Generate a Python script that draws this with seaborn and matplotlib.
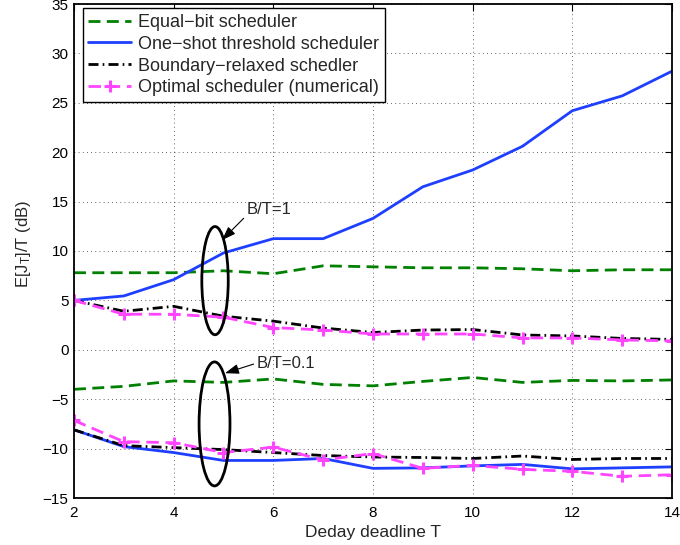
import matplotlib
matplotlib.use("Agg")
import matplotlib.pyplot as plt
from matplotlib.patches import Ellipse
import seaborn as sns
import pandas as pd

# ---- data ----
T = [2, 3, 4, 5, 6, 7, 8, 9, 10, 11, 12, 13, 14]
# B/T = 1
equal_bit_1 = [7.8, 7.8, 7.8, 8.0, 7.7, 8.5, 8.4, 8.3, 8.3, 8.2, 8.0, 8.1, 8.1]
one_shot_1 = [5.0, 5.45, 7.1, 9.8, 11.25, 11.25, 13.3, 16.5, 18.2, 20.6, 24.2, 25.7, 28.2]
boundary_1 = [5.0, 3.9, 4.4, 3.4, 2.9, 2.2, 1.75, 2.0, 2.05, 1.5, 1.4, 1.15, 1.05]
optimal_1 = [5.0, 3.6, 3.6, 3.3, 2.25, 2.0, 1.6, 1.6, 1.6, 1.2, 1.2, 1.0, 0.9]
# B/T = 0.1
equal_bit_01 = [-4.0, -3.7, -3.15, -3.3, -2.95, -3.5, -3.65, -3.2, -2.8, -3.3, -3.1, -3.15, -3.05]
one_shot_01 = [-8.1, -9.8, -10.4, -11.2, -11.2, -11.0, -12.0, -11.95, -11.75, -11.6, -12.05, -11.95, -11.85]
boundary_01 = [-8.1, -9.7, -9.9, -10.1, -10.4, -10.7, -10.85, -10.9, -11.0, -10.75, -11.1, -11.0, -11.0]
optimal_01 = [-7.15, -9.3, -9.4, -10.4, -9.85, -11.15, -10.5, -12.0, -11.7, -12.1, -12.3, -12.8, -12.65]

labels = ["Equal\u2212bit scheduler", "One\u2212shot threshold scheduler",
          "Boundary\u2212relaxed schedler", "Optimal scheduler (numerical)"]
x_ticks = [2, 4, 6, 8, 10, 12, 14]
y_ticks = [-15, -10, -5, 0, 5, 10, 15, 20, 25, 30, 35]

sns.set_theme(style="white")
plt.rcParams["font.family"] = ["Liberation Sans", "DejaVu Sans"]
plt.rcParams["mathtext.fontset"] = "custom"
plt.rcParams["mathtext.rm"] = "Liberation Sans"
plt.rcParams["mathtext.it"] = "Liberation Sans"

fig = plt.figure(figsize=(6.8, 5.45), dpi=100)
ax = fig.add_axes([74 / 680, 47 / 545, 598 / 680, 494 / 545])

magenta = "#ff45ff"
styles = [
    dict(color="#008000", linestyle=(0, (4.3, 2.3))),
    dict(color="#1f3fff", linestyle="-"),
    dict(color="black", linestyle=(0, (3.6, 1.5, 0.6, 1.5))),
    dict(color=magenta, linestyle=(0, (4.5, 2.4)), marker="+", markersize=9,
         markeredgewidth=2.2, markeredgecolor=magenta, markerfacecolor=magenta),
]
groups_1 = [equal_bit_1, one_shot_1, boundary_1, optimal_1]
groups_01 = [equal_bit_01, one_shot_01, boundary_01, optimal_01]

for lab, st, y1, y2 in zip(labels, styles, groups_1, groups_01):
    df1 = pd.DataFrame({"T": T, "v": y1})
    df2 = pd.DataFrame({"T": T, "v": y2})
    sns.lineplot(data=df1, x="T", y="v", ax=ax, label=lab, linewidth=2, **st)
    sns.lineplot(data=df2, x="T", y="v", ax=ax, legend=False, linewidth=2, **st)

ax.set_xlim(2, 14)
ax.set_ylim(-15, 35)
ax.set_xticks(x_ticks)
ax.set_yticks(y_ticks)
ax.tick_params(direction="in", top=True, right=True, length=5, width=0.8,
               labelsize=11, colors="black", pad=4)
ax.tick_params(axis="x", pad=6)
for s in ax.spines.values():
    s.set_color("black")
    s.set_linewidth(1.3)
ax.grid(True, color="black", linestyle=(0, (1, 4)), linewidth=0.6, alpha=0.8)

ax.set_xlabel("Deday deadline T", fontsize=12.5, labelpad=3)
ax.set_ylabel(r"E[J$_{\mathrm{T}}$]/T (dB)", fontsize=12)
ax.yaxis.set_label_coords(-0.068, 0.514)

# ellipses
ax.add_patch(Ellipse((4.83, 7.0), 0.53, 10.95, fill=False, edgecolor="black", linewidth=2, zorder=5))
ax.add_patch(Ellipse((4.82, -7.5), 0.62, 12.55, fill=False, edgecolor="black", linewidth=2, zorder=5))

ax.annotate("B/T=1", xy=(4.97, 11.1), xytext=(5.47, 14.25), fontsize=12,
            ha="left", va="center",
            arrowprops=dict(arrowstyle="-|>,head_length=0.7,head_width=0.25",
                            color="black", lw=0.8, relpos=(0, 0.1), shrinkA=0, shrinkB=0))
ax.annotate("B/T=0.1", xy=(5.03, -2.37), xytext=(5.67, -1.34), fontsize=12,
            ha="left", va="center",
            arrowprops=dict(arrowstyle="-|>,head_length=0.7,head_width=0.25",
                            color="black", lw=0.8, relpos=(0, 0.5), shrinkA=0, shrinkB=0))

leg = ax.legend(loc="upper left", bbox_to_anchor=(0.0145, 0.991), borderaxespad=0,
                fontsize=13, frameon=True, fancybox=False, framealpha=1,
                edgecolor="black", handlelength=2.4, handletextpad=0.37,
                borderpad=0.3, labelspacing=0.27, numpoints=1)
leg.get_frame().set_linewidth(1.0)

fig.savefig("out.png", dpi=100)
